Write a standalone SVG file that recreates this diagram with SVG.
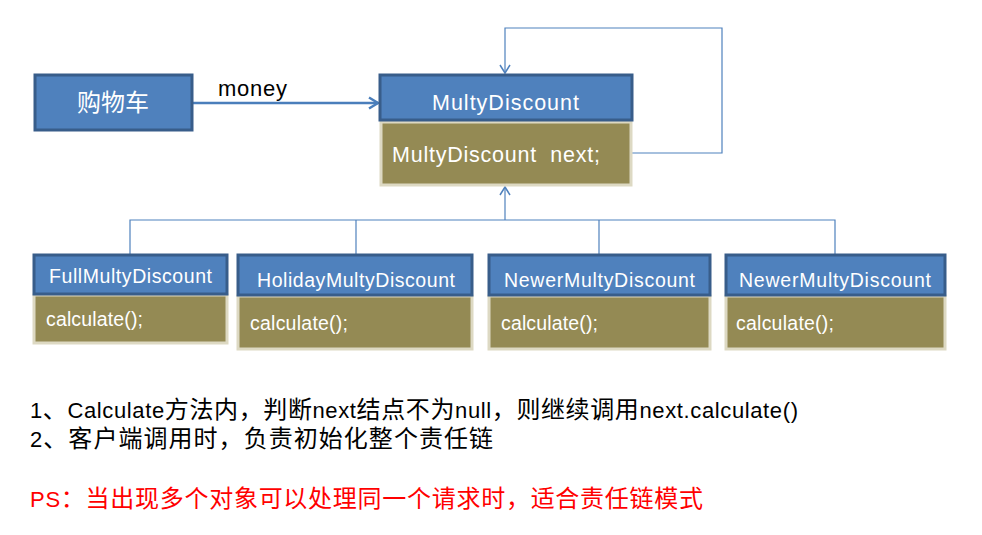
<svg xmlns="http://www.w3.org/2000/svg" width="982" height="535" viewBox="0 0 982 535">
<style>
.hdr{fill:#4F81BD;stroke:#385D8A;stroke-width:3}
.body{fill:#948A54;stroke:#DDD9C3;stroke-width:3}
.wt{fill:#fff;font-family:"Liberation Sans","Noto Sans CJK SC",sans-serif}
.line{fill:none;stroke:#4F81BD;stroke-width:1.2}
.txt{font-family:"Liberation Sans","Noto Sans CJK SC",sans-serif;font-size:22px}
.cj{font-size:24px}
</style>
<defs>
<marker id="oa" markerWidth="12" markerHeight="12" refX="10" refY="6" orient="auto" markerUnits="userSpaceOnUse">
<path d="M2,1 L10,6 L2,11" fill="none" stroke="#4F81BD" stroke-width="1.5"/>
</marker>
<marker id="ob" markerWidth="14" markerHeight="14" refX="11" refY="7" orient="auto" markerUnits="userSpaceOnUse">
<path d="M2,1.5 L11,7 L2,12.5" fill="none" stroke="#4A7EBB" stroke-width="2.5"/>
</marker>
</defs>
<rect width="982" height="535" fill="#fff"/>
<g id="connectors">
<line x1="192" y1="103" x2="378" y2="103" stroke="#4A7EBB" stroke-width="2.5" marker-end="url(#ob)"/>
<text x="218" y="96" class="txt" font-size="22" textLength="69" fill="#000">money</text>
<polyline class="line" points="632,153 722,153 722,28 505,28 505,73" marker-end="url(#oa)"/>
<line class="line" x1="505" y1="220" x2="505" y2="187" marker-end="url(#oa)"/>
<polyline class="line" points="130,254 130,220 835,220 835,254"/>
<line class="line" x1="356" y1="220" x2="356" y2="254"/>
<line class="line" x1="599" y1="220" x2="599" y2="254"/>
</g>
<g id="cart">
<rect class="hdr" x="35" y="75" width="157" height="55"/>
<text class="wt" x="113" y="111" font-size="24" text-anchor="middle">购物车</text>
</g>
<g id="multyDiscount">
<rect class="body" x="381" y="122" width="250" height="63"/>
<rect class="hdr" x="380" y="75" width="252" height="45"/>
<text class="wt" x="432" y="110" font-size="21.5" textLength="147">MultyDiscount</text>
<text class="wt" x="392" y="162" font-size="21.5" textLength="208" xml:space="preserve">MultyDiscount  next;</text>
</g>
<g id="fullMultyDiscount">
<rect class="body" x="34" y="295" width="193" height="48"/>
<rect class="hdr" x="34" y="255" width="193" height="39"/>
<text class="wt" x="49" y="283" font-size="19.5" textLength="163">FullMultyDiscount</text>
<text class="wt" x="46" y="326" font-size="19.5" textLength="97">calculate();</text>
</g>
<g id="holidayMultyDiscount">
<rect class="body" x="238" y="296" width="234" height="53"/>
<rect class="hdr" x="238" y="255" width="234" height="40"/>
<text class="wt" x="257" y="287" font-size="19.5" textLength="198">HolidayMultyDiscount</text>
<text class="wt" x="250" y="330" font-size="19.5" textLength="98">calculate();</text>
</g>
<g id="newerMultyDiscount1">
<rect class="body" x="489" y="296" width="221" height="53"/>
<rect class="hdr" x="489" y="255" width="221" height="40"/>
<text class="wt" x="504" y="287" font-size="19.5" textLength="191">NewerMultyDiscount</text>
<text class="wt" x="501" y="330" font-size="19.5" textLength="97">calculate();</text>
</g>
<g id="newerMultyDiscount2">
<rect class="body" x="726" y="296" width="219" height="53"/>
<rect class="hdr" x="726" y="255" width="219" height="40"/>
<text class="wt" x="739" y="287" font-size="19.5" textLength="192">NewerMultyDiscount</text>
<text class="wt" x="736" y="330" font-size="19.5" textLength="98">calculate();</text>
</g>
<g id="notes">
<text class="txt" x="30" y="418" fill="#000" textLength="768">1<tspan class="cj">、</tspan>Calculate<tspan class="cj">方法内，判断</tspan>next<tspan class="cj">结点不为</tspan>null<tspan class="cj">，则继续调用</tspan>next.calculate()</text>
<text class="txt" x="30" y="447" fill="#000" textLength="463">2<tspan class="cj">、客户端调用时，负责初始化整个责任链</tspan></text>
<text class="txt" x="30" y="507" fill="#FF0000" textLength="673">PS<tspan class="cj">：当出现多个对象可以处理同一个请求时，适合责任链模式</tspan></text>
</g>
</svg>
